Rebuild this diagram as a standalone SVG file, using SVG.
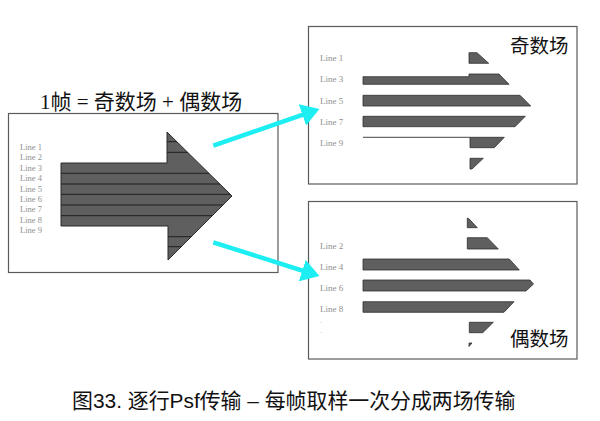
<svg xmlns="http://www.w3.org/2000/svg" width="600" height="421" viewBox="0 0 600 421">
<style>
.box{fill:#fff;stroke:#5a5a5a;stroke-width:1.2}
.lbl{font-family:"Liberation Serif","Noto Sans CJK SC",serif;font-size:8.5px;fill:#909090}
.lblr{font-family:"Liberation Serif","Noto Sans CJK SC",serif;font-size:9px;fill:#909090}
.bar{fill:#5f5f5f;stroke:#2e2e2e;stroke-width:0.8}
.stripe{stroke:#1e1e1e;stroke-width:1}
.cjk{font-family:"Liberation Serif","Noto Sans CJK SC",serif;fill:#111}
.cap{font-family:"Liberation Sans","Noto Sans CJK SC",sans-serif;font-size:20.9px;fill:#111}
.link{stroke:#1ceef2;stroke-width:4.5;fill:none}
</style>
<defs>
<marker id="ah" markerWidth="5" markerHeight="5" refX="3.2" refY="2.5" orient="auto" markerUnits="strokeWidth">
<path d="M0,0 L4,2.5 L0,5 Z" fill="#1ceef2"/>
</marker>
<clipPath id="arrowclip">
<polygon points="61,163 167,163 167,132 232,196 168,260 168,226 61,226"/>
</clipPath>
</defs>
<rect width="600" height="421" fill="#fff"/>

<text class="cjk" x="40" y="109" font-size="21">1帧 = 奇数场 + 偶数场</text>

<g id="frame">
<rect class="box" x="8.5" y="113.5" width="269.5" height="159"/>
<g class="lbl">
<text x="20" y="150">Line 1</text>
<text x="20" y="160.4">Line 2</text>
<text x="20" y="170.8">Line 3</text>
<text x="20" y="181.2">Line 4</text>
<text x="20" y="191.6">Line 5</text>
<text x="20" y="202">Line 6</text>
<text x="20" y="212.4">Line 7</text>
<text x="20" y="222.8">Line 8</text>
<text x="20" y="233.2">Line 9</text>
</g>
<polygon points="61,163 167,163 167,132 232,196 168,260 168,226 61,226" fill="#5f5f5f" stroke="#2a2a2a" stroke-width="1"/>
<g clip-path="url(#arrowclip)" class="stripe">
<line x1="60" y1="141.7" x2="240" y2="141.7"/>
<line x1="60" y1="152.3" x2="240" y2="152.3"/>
<line x1="60" y1="173.3" x2="240" y2="173.3"/>
<line x1="60" y1="184" x2="240" y2="184"/>
<line x1="60" y1="194.3" x2="240" y2="194.3"/>
<line x1="60" y1="205" x2="240" y2="205"/>
<line x1="60" y1="215.7" x2="240" y2="215.7"/>
<line x1="60" y1="236.7" x2="240" y2="236.7"/>
<line x1="60" y1="246.7" x2="240" y2="246.7"/>
</g>
</g>

<g id="odd">
<rect class="box" x="308.5" y="26.5" width="268.5" height="157.5"/>
<text class="cjk" x="510" y="53" font-size="19.5">奇数场</text>
<g class="lblr">
<text x="320" y="60.7">Line 1</text>
<text x="320" y="82.3">Line 3</text>
<text x="320" y="103.7">Line 5</text>
<text x="320" y="124.7">Line 7</text>
<text x="320" y="145.7">Line 9</text>
</g>
<polygon class="bar" points="469,52.7 477,52.7 488.7,63.3 469,63.3"/>
<polygon class="bar" points="363,76.7 469,76.7 469,74 499,74 509,84.3 363,84.3"/>
<polygon class="bar" points="363,95.3 520,95.3 530.7,106 363,106"/>
<polygon class="bar" points="363,116.3 525.3,116.3 515,126.7 363,126.7"/>
<line x1="363" y1="137.3" x2="470" y2="137.3" stroke="#444" stroke-width="1"/>
<polygon class="bar" points="470,137.3 504.3,137.3 494.3,147.7 470,147.7"/>
<polygon class="bar" points="470,158.3 483.3,158.3 472,169 470,169"/>
</g>

<g id="even">
<rect class="box" x="308.5" y="201.5" width="268.5" height="157.5"/>
<text class="cjk" x="510" y="346" font-size="19.5">偶数场</text>
<g class="lblr">
<text x="320" y="249">Line 2</text>
<text x="320" y="269.7">Line 4</text>
<text x="320" y="290.7">Line 6</text>
<text x="320" y="312">Line 8</text>
<text x="320" y="324" font-size="5">-</text>
<text x="320" y="334" font-size="5">-</text>
</g>
<polygon class="bar" points="467.3,218.3 468.5,218.3 477.3,227.7 467.3,227.7"/>
<polygon class="bar" points="467.3,237.7 487.3,237.7 498.3,249 467.3,249"/>
<polygon class="bar" points="363,259 509.3,259 519.3,270 363,270"/>
<polygon class="bar" points="363,280 530,280 533.5,284 526,291 363,291"/>
<polygon class="bar" points="363,301.7 514,301.7 504,312.3 363,312.3"/>
<polygon class="bar" points="469.3,322.3 493.3,322.3 482.7,332.7 469.3,332.7"/>
<polygon class="bar" points="469,343 472,343 469,346.5"/>
</g>

<g id="connectors">
<line class="link" x1="213.3" y1="145.7" x2="316" y2="110.2" marker-end="url(#ah)"/>
<line class="link" x1="213.3" y1="242.3" x2="316" y2="275" marker-end="url(#ah)"/>
</g>

<text class="cap" x="72" y="408">图33. 逐行Psf传输 – 每帧取样一次分成两场传输</text>
</svg>
